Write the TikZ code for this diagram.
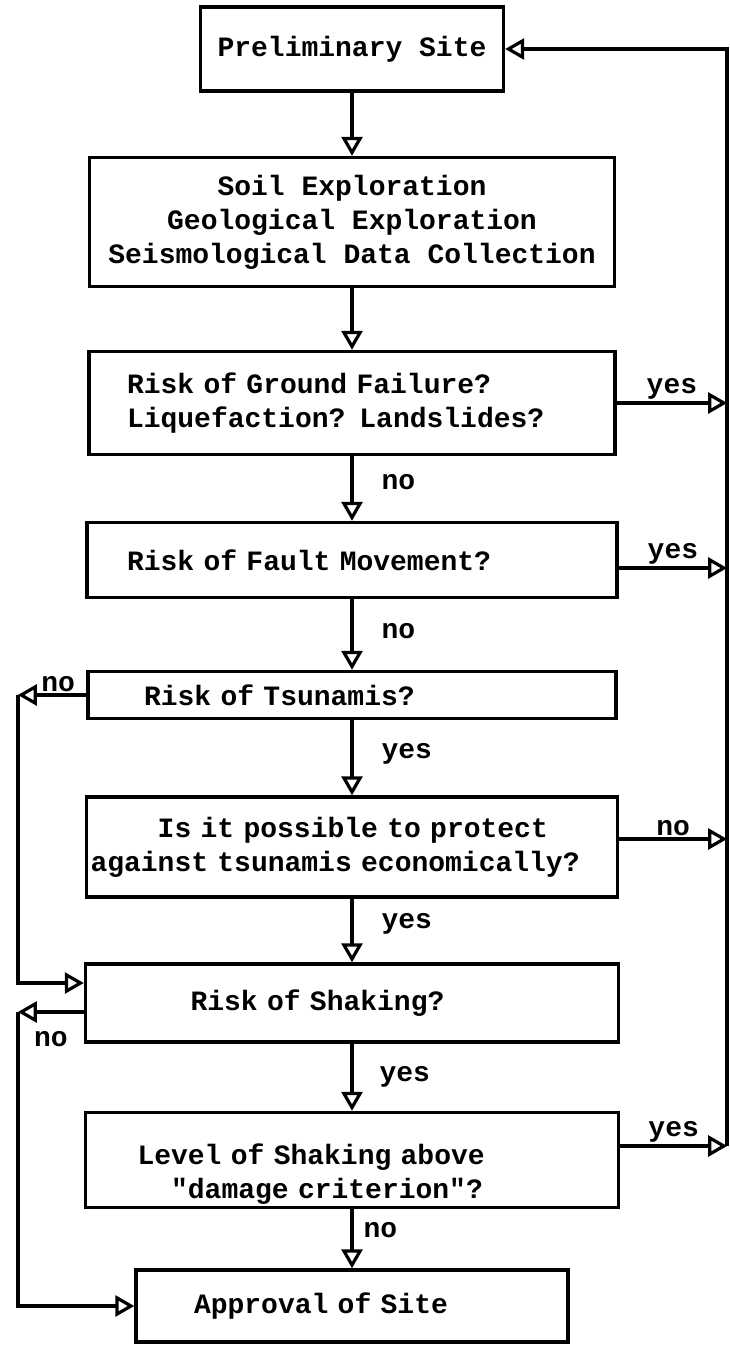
\documentclass[tikz,border=0pt]{standalone}
\usepackage{fontspec}
\setmonofont{Liberation Mono}
\usepackage{tikz}
\usetikzlibrary{shapes.geometric, arrows}
\newcommand{\boxfont}{\ttfamily\bfseries\fontsize{14}{17}\selectfont}
\tikzstyle{box} = [rectangle, draw=black, line width=1.8pt, font=\boxfont]
\tikzstyle{lbl} = [font=\boxfont, inner sep=1pt]
\tikzstyle{arrow} = [line width=1.6pt,->,>=open triangle 60]

\begin{document}
\begin{tikzpicture}[x=0.5pt, y=-0.5pt]
    \useasboundingbox (0,0) rectangle (729,1347);
    \coordinate (redge) at (727,0);
    \coordinate (ledge) at (18,0);

    \node (prelim) [box, minimum width=151.5pt, minimum height=42pt] at (352,49) {Preliminary Site};
    \node (soil) [box, align=center, minimum width=262.5pt, minimum height=64.5pt, below of=prelim, node distance=86.5pt] {Soil Exploration\\Geological Exploration\\Seismological Data Collection};
    \node (ground) [box, align=left, text width=225pt, inner xsep=19pt, minimum height=51.5pt, below of=soil, node distance=90.5pt] {Risk of Ground Failure?\\Liquefaction? Landslides?};
    \node (fault) [box, align=left, text width=225pt, inner xsep=20pt, minimum height=37.5pt, below of=ground, node distance=78.5pt] {Risk of Fault Movement?};
    \node (tsu) [box, align=left, text width=208pt, inner xsep=28pt, minimum height=23.5pt, below of=fault, node distance=67.5pt] {Risk of Tsunamis?};
    \node (protect) [box, align=left, text width=261.5pt, inner xsep=2pt, minimum height=50pt, below of=tsu, node distance=76pt] {\hspace*{33.6pt}Is it possible to protect\\against tsunamis economically?};
    \node (shaking) [box, align=left, text width=161.5pt, inner xsep=52.5pt, minimum height=39pt, below of=protect, node distance=78pt] {Risk of Shaking?};
    \node (level) [box, align=left, text width=214.5pt, inner xsep=26pt, inner ysep=0pt, minimum height=47.5pt, below of=shaking, node distance=78.5pt] {\rule{0pt}{25.5pt}Level of Shaking above\\\hspace*{16.8pt}"damage criterion"?\rule[-4.5pt]{0pt}{4.5pt}};
    \node (approval) [box, align=left, text width=158pt, inner xsep=29pt, minimum height=36pt, below of=level, node distance=73pt] {Approval of Site};

    % main line down
    \draw[arrow] (prelim) -- (soil);
    \draw[arrow] (soil) -- (ground);
    \draw[arrow] (ground) -- node[lbl, right, pos=0.4, xshift=13pt] {no} (fault);
    \draw[arrow] (fault) -- node[lbl, right, pos=0.45, xshift=13pt] {no} (tsu);
    \draw[arrow] (tsu) -- node[lbl, right, pos=0.45, xshift=13pt] {yes} (protect);
    \draw[arrow] (protect) -- node[lbl, right, pos=0.4, xshift=13pt] {yes} (shaking);
    \draw[arrow] (shaking) -- node[lbl, right, pos=0.5, xshift=12pt] {yes} (level);
    \draw[arrow] (level) -- node[lbl, right, pos=0.35, xshift=4pt] {no} (approval);

    % back to the start on the right
    \coordinate (fltout) at ([yshift=-4pt]fault.east);
    \coordinate (prtout) at ([yshift=4pt]protect.east);
    \coordinate (lvlout) at ([yshift=7pt]level.east);
    \draw[arrow] (ground.east) -- node[lbl, above] {yes} (ground.east -| redge);
    \draw[arrow] (fltout) -- node[lbl, above] {yes} (fltout -| redge);
    \draw[arrow] (prtout) -- node[lbl, above] {no} (prtout -| redge);
    \draw[arrow] (lvlout) -- node[lbl, above] {yes} (lvlout -| redge);
    \draw[arrow] (lvlout -| redge) |- (prelim.east);

    % skips on the left
    \coordinate (shkin) at ([yshift=10pt]shaking.west);
    \coordinate (shkout) at ([yshift=-4.5pt]shaking.west);
    \draw[arrow] (tsu.west) -- node[lbl, above, xshift=3pt] {no} (tsu.west -| ledge);
    \draw[arrow] (tsu.west -| ledge) |- (shkin);
    \draw[arrow] (shkout) -- node[lbl, below, yshift=-8pt] {no} (shkout -| ledge);
    \draw[arrow] (shkout -| ledge) |- (approval.west);

\end{tikzpicture}
\end{document}
